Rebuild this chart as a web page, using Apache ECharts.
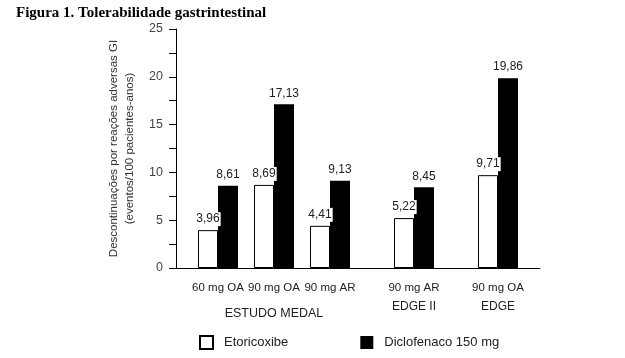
<!DOCTYPE html>
<html>
<head>
<meta charset="utf-8">
<script src="https://cdn.jsdelivr.net/npm/echarts@6/dist/echarts.min.js"></script>
<style>html,body{margin:0;padding:0;background:#fff}#c{width:625px;height:358px}</style>
</head>
<body>
<div id="c"></div>
<script>
// ---- data ----
var doseLabels = ['60 mg OA', '90 mg OA', '90 mg AR', '90 mg AR', '90 mg OA'];
var studyLabels = ['', 'ESTUDO MEDAL', '', 'EDGE II', 'EDGE'];
var etoricoxibe = [3.96, 8.69, 4.41, 5.22, 9.71];
var diclofenaco = [8.61, 17.13, 9.13, 8.45, 19.86];
var yTicks = [0, 5, 10, 15, 20, 25];
var seriesNames = ['Etoricoxibe', 'Diclofenaco 150 mg'];
var titleText = 'Figura 1. Tolerabilidade gastrintestinal';
var yName = 'Descontinuações por reações adversas GI\n(eventos/100 pacientes-anos)';

// ---- layout: category slots (spacing between groups) ----
var slotCount = 13;
var slotOf = [1, 3, 5, 8, 11];
var cats = [], subs = [], eto = [], dic = [];
for (var i = 0; i < slotCount; i++) { cats.push(''); subs.push(''); eto.push(null); dic.push(null); }
slotOf.forEach(function (s, k) {
  cats[s] = doseLabels[k]; subs[s] = studyLabels[k];
  eto[s] = etoricoxibe[k]; dic[s] = diclofenaco[k];
});
var fmt = function (v) { return v.toFixed(2).replace('.', ','); };

var chart = echarts.init(document.getElementById('c'), null, {renderer: 'canvas'});
chart.setOption({
  animation: false,
  backgroundColor: '#fff',
  textStyle: {fontFamily: 'Liberation Sans, Arial, sans-serif'},
  title: {
    text: titleText, left: 11, top: 1,
    textStyle: {fontFamily: 'Liberation Serif', fontWeight: 'bold', fontSize: 15, color: '#000'}
  },
  grid: {left: 176, right: 85, top: 29, bottom: 90, containLabel: false},
  legend: {
    data: seriesNames, left: 199, top: 335, padding: 0, itemWidth: 13, itemHeight: 13, itemGap: 72,
    icon: 'rect',
    textStyle: {fontSize: 13, color: '#222', padding: [0, 0, 0, 6]}
  },
  xAxis: {
    type: 'category', data: cats,
    axisLine: {lineStyle: {color: '#000', width: 1}},
    axisTick: {
      alignWithLabel: true, length: 5, lineStyle: {color: '#000'},
      interval: function (idx, v) { return v !== ''; }
    },
    axisLabel: {
      interval: 0, margin: 12, color: '#222', fontSize: 11.5, lineHeight: 15,
      formatter: function (v, idx) {
        if (!v) return '';
        var s = subs[idx];
        if (!s) return v;
        return v + '\n{' + (s === 'ESTUDO MEDAL' ? 'm' : 's') + '|' + s + '}';
      },
      rich: {
        s: {fontSize: 12, color: '#222', lineHeight: 23},
        m: {fontSize: 12.5, color: '#222', lineHeight: 37}
      }
    }
  },
  yAxis: {
    type: 'value', min: 0, max: 25, interval: 2.5,
    name: yName, nameLocation: 'middle', nameGap: 38, nameRotate: 90,
    nameTextStyle: {fontSize: 11.5, lineHeight: 16, color: '#333'},
    axisLine: {show: true, lineStyle: {color: '#000', width: 1}},
    axisTick: {show: true, length: 7, lineStyle: {color: '#000'}},
    splitLine: {show: false},
    axisLabel: {
      margin: 13, color: '#444', fontSize: 12.5,
      formatter: function (v) { return yTicks.indexOf(v) >= 0 ? String(v) : ''; }
    }
  },
  series: [
    {
      name: seriesNames[0], type: 'bar', data: eto, barWidth: 20, barGap: '0%',
      itemStyle: {color: '#fff', borderColor: '#000', borderWidth: 1},
      label: {
        show: true, position: 'top', distance: 4, fontSize: 12, color: '#222',
        backgroundColor: '#fff', padding: [1, 1],
        formatter: function (p) { return fmt(p.value); }
      }
    },
    {
      name: seriesNames[1], type: 'bar', data: dic, barWidth: 20,
      itemStyle: {color: '#000'},
      label: {
        show: true, position: 'top', distance: 5, fontSize: 12, color: '#222',
        formatter: function (p) { return fmt(p.value); }
      }
    }
  ]
});
</script>
</body>
</html>
